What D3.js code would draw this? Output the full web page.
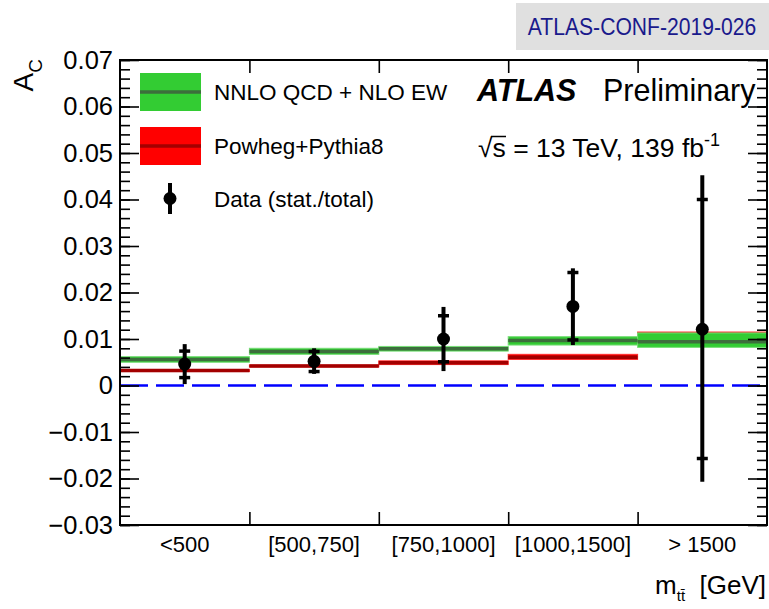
<!DOCTYPE html>
<html>
<head>
<meta charset="utf-8">
<script src="https://cdn.jsdelivr.net/npm/d3@7"></script>
<style>
  body { margin: 0; background: #fff; }
  svg { display: block; font-family: "Liberation Sans", Arial, Helvetica, sans-serif; }
</style>
</head>
<body>
<svg id="chart" width="769" height="609"></svg>
<script>
// bins of m_tt
var bins = ["<500", "[500,750]", "[750,1000]", "[1000,1500]", "> 1500"];

// data with stat and total error ranges
var dataVal  = [0.0046, 0.0052, 0.0100, 0.0170, 0.0121];
var statLo   = [0.0017, 0.0030, 0.0051, 0.0098, -0.0157];
var statHi   = [0.0074, 0.0073, 0.0150, 0.0243, 0.0400];
var totalLo  = [0.0003, 0.0025, 0.0031, 0.0087, -0.0207];
var totalHi  = [0.0089, 0.0080, 0.0169, 0.0252, 0.0452];

// NNLO QCD + NLO EW prediction
var nnloVal = [0.0056, 0.0073, 0.0079, 0.0097, 0.0094];
var nnloLo  = [0.0050, 0.0067, 0.0074, 0.0087, 0.0082];
var nnloHi  = [0.0062, 0.0080, 0.0084, 0.0105, 0.0113];

// Powheg+Pythia8 prediction
var powVal = [0.0032, 0.0042, 0.0049, 0.0061, 0.0106];
var powLo  = [0.0030, 0.0040, 0.0045, 0.0056, 0.0098];
var powHi  = [0.0034, 0.0044, 0.0053, 0.0067, 0.0115];

var yTicks = [-0.03, -0.02, -0.01, 0, 0.01, 0.02, 0.03, 0.04, 0.05, 0.06, 0.07];
var legendLabels = ["NNLO QCD + NLO EW", "Powheg+Pythia8", "Data (stat./total)"];

var
  margin = {top: 60, right: 2, bottom: 84, left: 120},
  width = 769 - margin.left - margin.right,
  height = 609 - margin.top - margin.bottom,
  svg = d3.select("#chart"),
  g = svg.append("g").attr("transform", "translate(" + margin.left + "," + margin.top + ")"),
  xEdge = d3.scaleLinear().domain([0, bins.length]).range([0, width]),
  xBand = d3.scaleBand().domain(bins).range([0, width]).padding(0),
  yScale = d3.scaleLinear().domain([-0.03, 0.07]).range([height, 0]),
  fmt = d => Math.abs(d) < 1e-9 ? "0" : d3.format(".2f")(d)
  ;

var minor = d3.range(-30, 71, 2).map(v => v / 1000);

// prediction bands: red first, green on top
function band(vals, lo, hi, fill, edge, dark) {
  var b = g.append("g");
  b.selectAll("rect")
    .data(bins)
    .enter().append("rect")
    .attr("x", (d, i) => xEdge(i))
    .attr("width", (d, i) => xEdge(i + 1) - xEdge(i))
    .attr("y", (d, i) => yScale(hi[i]))
    .attr("height", (d, i) => yScale(lo[i]) - yScale(hi[i]))
    .style("fill", fill)
    .style("stroke", edge)
    .style("stroke-width", 1);
  b.selectAll("line")
    .data(bins)
    .enter().append("line")
    .attr("x1", (d, i) => xEdge(i))
    .attr("x2", (d, i) => xEdge(i + 1))
    .attr("y1", (d, i) => yScale(vals[i]))
    .attr("y2", (d, i) => yScale(vals[i]))
    .style("stroke", dark)
    .style("stroke-width", 3.5);
}
band(powVal, powLo, powHi, "#ff0000", "#ff3030", "#a30000");
band(nnloVal, nnloLo, nnloHi, "#33cc33", "#77dd77", "#3c6e3c");

// zero line
g.append("line")
  .attr("x1", 0).attr("x2", width - 4)
  .attr("y1", yScale(0)).attr("y2", yScale(0))
  .style("stroke", "#0000ff")
  .style("stroke-width", 2.5)
  .style("stroke-dasharray", "28,8");

// data points
var pts = g.selectAll(".pt")
  .data(bins)
  .enter().append("g")
  .attr("class", "pt")
  .attr("transform", d => "translate(" + (xBand(d) + xBand.bandwidth() / 2) + ",0)");

pts.append("line")
  .attr("y1", (d, i) => yScale(totalLo[i]))
  .attr("y2", (d, i) => yScale(totalHi[i]))
  .style("stroke", "#000")
  .style("stroke-width", 4);

[statLo, statHi].forEach(arr => {
  pts.append("line")
    .attr("x1", -5.5).attr("x2", 5.5)
    .attr("y1", (d, i) => yScale(arr[i]))
    .attr("y2", (d, i) => yScale(arr[i]))
    .style("stroke", "#000")
    .style("stroke-width", 3.5);
});

pts.append("circle")
  .attr("cy", (d, i) => yScale(dataVal[i]))
  .attr("r", 6.5)
  .style("fill", "#000");

// axes
var yAxis = d3.axisLeft(yScale).tickValues(yTicks).tickSize(-19).tickPadding(7).tickFormat(fmt);
var yMinor = d3.axisLeft(yScale).tickValues(minor).tickSize(-10).tickFormat("");
var yRight = d3.axisRight(yScale).tickValues(yTicks).tickSize(-19).tickFormat("");
var yRightMinor = d3.axisRight(yScale).tickValues(minor).tickSize(-10).tickFormat("");
var inner = d3.range(1, bins.length);
var xTop = d3.axisTop(xEdge).tickValues(inner).tickSize(-13).tickFormat("");
var xBot = d3.axisBottom(xEdge).tickValues(inner).tickSize(-13).tickFormat("");
var xLab = d3.axisBottom(xBand).tickSize(0).tickPadding(11);

g.append("g").attr("class", "axis").call(yMinor);
g.append("g").attr("class", "axis").call(yAxis);
g.append("g").attr("class", "axis").attr("transform", "translate(" + width + ",0)").call(yRightMinor);
g.append("g").attr("class", "axis").attr("transform", "translate(" + width + ",0)").call(yRight);
g.append("g").attr("class", "axis").call(xTop);
g.append("g").attr("class", "axis").attr("transform", "translate(0," + height + ")").call(xBot);
g.append("g").attr("class", "axis xlab").attr("transform", "translate(0," + height + ")").call(xLab);

g.selectAll(".axis .domain").remove();
g.selectAll(".axis line").style("stroke", "#000").style("stroke-width", 1.6);
g.selectAll(".axis text").style("fill", "#000").style("font-family", "inherit").style("font-size", "25.5px");
g.selectAll(".xlab text").style("font-size", "22px");

g.append("rect")
  .attr("width", width).attr("height", height)
  .style("fill", "none").style("stroke", "#000").style("stroke-width", 2);

// legend
var leg = svg.append("g");
[["#33cc33", "#3c6e3c"], ["#ff0000", "#a30000"]].forEach((c, i) => {
  var y0 = 73 + i * 54;
  leg.append("rect").attr("x", 140).attr("y", y0).attr("width", 61).attr("height", 38).style("fill", c[0]);
  leg.append("line").attr("x1", 140).attr("x2", 201).attr("y1", y0 + 19).attr("y2", y0 + 19)
    .style("stroke", c[1]).style("stroke-width", 3.3);
});
leg.append("line").attr("x1", 170).attr("x2", 170).attr("y1", 183).attr("y2", 214)
  .style("stroke", "#000").style("stroke-width", 4);
leg.append("circle").attr("cx", 170).attr("cy", 198.5).attr("r", 6.5).style("fill", "#000");
leg.selectAll("text")
  .data(legendLabels)
  .enter().append("text")
  .attr("x", 214)
  .attr("y", (d, i) => 100 + i * 53.5)
  .style("font-size", "22.5px")
  .text(d => d);

// ATLAS label
svg.append("text").attr("x", 477).attr("y", 101)
  .style("font-size", "30.5px").style("font-weight", "bold").style("font-style", "italic")
  .text("ATLAS");
svg.append("text").attr("x", 603).attr("y", 101)
  .style("font-size", "30.5px")
  .text("Preliminary");
var en = svg.append("text").attr("x", 478).attr("y", 157).style("font-size", "26.5px");
en.append("tspan").text("\u221As = 13 TeV, 139 fb");
en.append("tspan").attr("dy", -11).style("font-size", "18px").text("-1");
// overbar of the square root
svg.append("line").attr("x1", 491).attr("x2", 506).attr("y1", 136.5).attr("y2", 136.5)
  .style("stroke", "#000").style("stroke-width", 1.5);

// conf tag
svg.append("rect").attr("x", 516).attr("y", 3).attr("width", 253).attr("height", 47).style("fill", "#e0e0e0");
svg.append("text").attr("transform", "translate(642,35) scale(0.88,1)").attr("text-anchor", "middle")
  .style("font-size", "24px").style("fill", "#1a1a8c")
  .text("ATLAS-CONF-2019-026");

// axis titles
var yt = svg.append("text")
  .attr("transform", "translate(33,59) rotate(-90)")
  .attr("text-anchor", "end")
  .style("font-size", "28px");
yt.append("tspan").text("A");
yt.append("tspan").attr("dy", 9).style("font-size", "19px").text("C");

var xt = svg.append("text")
  .attr("x", 766).attr("y", 594)
  .attr("text-anchor", "end")
  .attr("xml:space", "preserve")
  .style("font-size", "26px");
xt.append("tspan").text("m");
xt.append("tspan").attr("dy", 7).style("font-size", "15px").text("tt\u0304");
xt.append("tspan").attr("dy", -7).text("  [GeV]");
</script>
</body>
</html>
